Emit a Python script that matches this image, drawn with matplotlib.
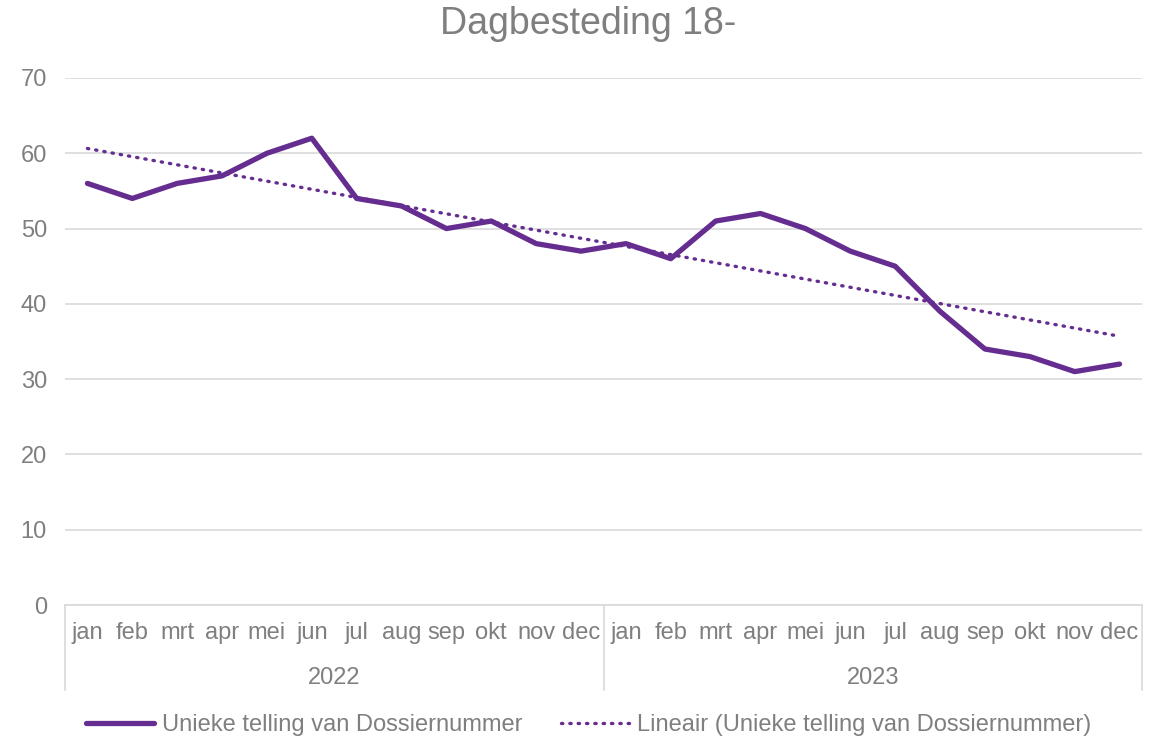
import numpy as np
import matplotlib.pyplot as plt
from matplotlib.transforms import blended_transform_factory

plt.rcParams['font.family'] = ['Liberation Sans', 'DejaVu Sans']

months = ["jan", "feb", "mrt", "apr", "mei", "jun", "jul", "aug", "sep", "okt", "nov", "dec"]
years = ["2022", "2023"]
values_2022 = [56, 54, 56, 57, 60, 62, 54, 53, 50, 51, 48, 47]
values_2023 = [48, 46, 51, 52, 50, 47, 45, 39, 34, 33, 31, 32]

purple = "#652D90"
grey_txt = "#7F7F7F"
grid_c = "#D9D9D9"

values = np.array(values_2022 + values_2023, dtype=float)
x = np.arange(len(values))

# linear trend line (like Excel's "Lineair" trendline)
k, b = np.polyfit(x, values, 1)
trend = k * x + b

fig = plt.figure(figsize=(11.52, 7.5), dpi=100)
ax = fig.add_axes([65 / 1152, 1 - 605 / 750, (1142 - 65) / 1152, (605 - 78) / 750])

ax.plot(x, values, color=purple, lw=3.8, solid_joinstyle='round', solid_capstyle='round',
        label="Unieke telling van Dossiernummer")
ax.plot(x, trend, color=purple, lw=2.4, linestyle=(0, (0.4, 2.1)), dash_capstyle='round',
        label="Lineair (Unieke telling van Dossiernummer)")

ax.set_xlim(-0.5, len(values) - 0.5)
ax.set_ylim(0, 70)
ax.set_yticks(range(0, 71, 10))
ax.yaxis.grid(True, color=grid_c, lw=1.2)
ax.set_axisbelow(True)
for s in ["top", "right", "left"]:
    ax.spines[s].set_visible(False)
ax.spines["bottom"].set_color(grid_c)
ax.spines["bottom"].set_linewidth(1.2)
ax.tick_params(axis='y', length=0, labelsize=17, labelcolor=grey_txt, pad=13)
ax.set_xticks([])

# two-level category axis
tr = blended_transform_factory(ax.transData, ax.transAxes)
ax_h = (605 - 78) / 750 * 7.5 * 100  # axes height in px
def ay(py):
    return (605 - py) / ax_h

labels = months + months
for i, m in enumerate(labels):
    ax.text(i, ay(633), m, transform=tr, ha='center', va='center',
            fontsize=17, color=grey_txt, clip_on=False)
for j, yr in enumerate(years):
    ax.text(j * 12 + 5.5, ay(678), yr, transform=tr, ha='center', va='center',
            fontsize=17, color=grey_txt, clip_on=False)
for xb in [-0.5, 11.5, 23.5]:
    ax.plot([xb, xb], [0, ay(690)], transform=tr, color=grid_c, lw=1.2, clip_on=False)

fig.text(588 / 1152, 1 - 24 / 750, "Dagbesteding 18-", ha='center', va='center',
         fontsize=27, color=grey_txt)

fig.legend(loc='center', bbox_to_anchor=(0.511, 1 - 725 / 750), ncol=2, frameon=False,
           fontsize=17, labelcolor=grey_txt, handlelength=2.9, handletextpad=0.35,
           columnspacing=1.6)

fig.savefig("out.png", dpi=100)
